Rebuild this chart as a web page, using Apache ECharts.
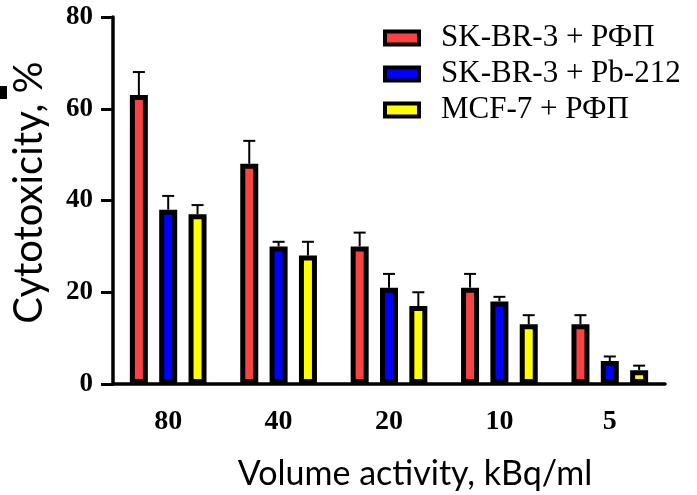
<!DOCTYPE html>
<html>
<head>
<meta charset="utf-8">
<script src="https://cdn.jsdelivr.net/npm/echarts@6/dist/echarts.min.js"></script>
<style>html,body{margin:0;padding:0;background:#fff}#c{width:697px;height:495px}</style>
</head>
<body>
<div id="c"></div>
<script>
const categories = ['80', '40', '20', '10', '5'];
const seriesNames = ['SK-BR-3 + РФП', 'SK-BR-3 + Pb-212', 'MCF-7 + РФП'];
const skbrRfp = [63, 48, 30, 21, 13];
const skbrPb = [38, 30, 21, 18, 5];
const mcfRfp = [37, 28, 17, 13, 3];
const skbrRfpErr = [5, 5, 3, 3, 2];
const skbrPbErr = [3, 1, 3, 1, 1];
const mcfRfpErr = [2, 3, 3, 2, 1];
const yTicks = [0, 20, 40, 60, 80];

const colors = ['#F94343', '#0000FF', '#FFFF00'];
const values = [skbrRfp, skbrPb, mcfRfp];
const errs = [skbrRfpErr, skbrPbErr, mcfRfpErr];
const BAR_W = 18, BAR_GAP = 0.63;
const step = BAR_W * (1 + BAR_GAP);
const serif = "'Liberation Serif', 'Times New Roman', serif";
const sans = "Lato, 'Open Sans', sans-serif";

const chart = echarts.init(document.getElementById('c'), null, {renderer: 'canvas'});
const series = [];
values.forEach((v, i) => {
  series.push({
    name: seriesNames[i],
    type: 'bar',
    data: v,
    barWidth: BAR_W,
    barGap: (BAR_GAP * 100) + '%',
    itemStyle: {color: colors[i], borderColor: '#000', borderWidth: 5},
    z: 2
  });
});
values.forEach((v, i) => {
  const off = (i - 1) * step;
  series.push({
    type: 'custom',
    name: seriesNames[i] + ' err',
    data: v.map((val, k) => [k, val, errs[i][k]]),
    z: 1,
    silent: true,
    renderItem: function (params, api) {
      const k = api.value(0), top = api.value(1), e = api.value(2);
      const p0 = api.coord([k, top]);
      const p1 = api.coord([k, top + e]);
      const x = p0[0] + off;
      return {
        type: 'group',
        children: [
          {type: 'line', shape: {x1: x, y1: p0[1], x2: x, y2: p1[1]}, style: {stroke: '#000', lineWidth: 2}},
          {type: 'line', shape: {x1: x - 6, y1: p1[1], x2: x + 6, y2: p1[1]}, style: {stroke: '#000', lineWidth: 2}}
        ]
      };
    }
  });
});

chart.setOption({
  animation: false,
  backgroundColor: '#fff',
  grid: {left: 113, right: 32, top: 17, bottom: 111, containLabel: false, outerBoundsMode: 'none'},
  legend: {
    data: seriesNames,
    orient: 'vertical',
    left: 378,
    top: 17,
    icon: 'rect',
    itemWidth: 34,
    itemHeight: 13,
    itemGap: 4,
    itemStyle: {borderColor: '#000', borderWidth: 4},
    textStyle: {fontFamily: serif, fontSize: 31, color: '#000', lineHeight: 32, padding: [0, 0, 0, 17]}
  },
  xAxis: {
    type: 'category',
    data: categories,
    name: 'Volume activity, kBq/ml',
    nameLocation: 'middle',
    nameGap: 73,
    nameTextStyle: {fontFamily: sans, fontSize: 34, color: '#000', padding: [0, 0, 0, 52]},
    axisLine: {lineStyle: {color: '#000', width: 3.5}},
    axisTick: {alignWithLabel: true, length: 12, lineStyle: {color: '#000', width: 3}},
    axisLabel: {fontFamily: serif, fontWeight: 'bold', fontSize: 28, color: '#000', margin: 24}
  },
  yAxis: {
    type: 'value',
    min: yTicks[0],
    max: yTicks[yTicks.length - 1],
    interval: yTicks[1] - yTicks[0],
    name: 'Cytotoxicity, %',
    nameLocation: 'middle',
    nameGap: 64,
    nameTextStyle: {fontFamily: sans, fontSize: 40, color: '#000', padding: [0, 0, 0, 16]},
    splitLine: {show: false},
    axisLine: {show: true, lineStyle: {color: '#000', width: 3.5}},
    axisTick: {show: true, length: 12, lineStyle: {color: '#000', width: 3}},
    axisLabel: {fontFamily: serif, fontWeight: 'bold', fontSize: 27, color: '#000', margin: 20}
  },
  graphic: [
    {type: 'rect', shape: {x: 0, y: 86, width: 7, height: 13}, style: {fill: '#000'}}
  ],
  series: series
});
</script>
</body>
</html>
